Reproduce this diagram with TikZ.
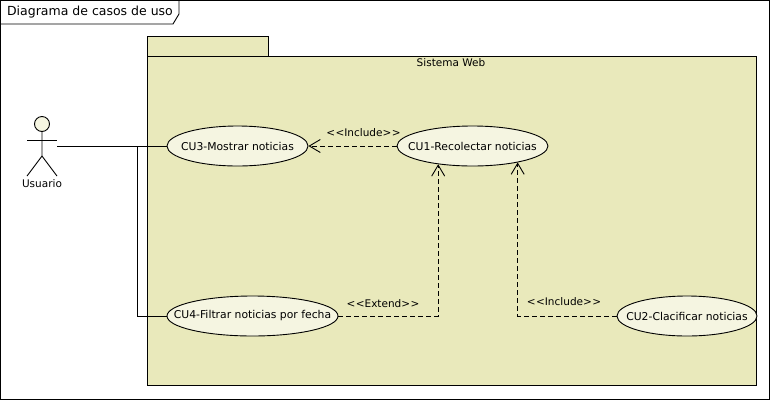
\documentclass[tikz,border=0pt]{standalone}
\usepackage{fontspec}
\setmainfont{DejaVu Sans}
\usetikzlibrary{arrows.meta}
\usetikzlibrary{shapes.geometric}
\definecolor{pkgfill}{HTML}{E9E9BB}
\definecolor{ucfill}{HTML}{F5F5E1}
\newcommand{\uctext}[1]{\makebox[0pt]{#1}}
\newcommand{\stereo}[1]{<\kern0.4pt<#1>\kern0.4pt>}
\tikzset{
    ucase/.style={draw, ellipse, fill=ucfill, inner sep=0pt, minimum height=40pt, font=\fontsize{10.8}{12}\selectfont},
    txt/.style={inner sep=0pt, font=\fontsize{10.5}{12}\selectfont},
    dep/.style={dashed, dash pattern=on 5pt off 3pt, -{Straight Barb[length=11pt,width=13pt]}},
}

\begin{document}
\begin{tikzpicture}[x=1pt, y=-1pt, line width=0.9pt]
    \useasboundingbox (0, 0) rectangle (771, 400);
    % frame
    \draw (0.5, 0.5) rectangle (769.5, 399);
    \draw (0.5, 24) -- (173, 24) -- (179, 14) -- (179, 0.5);
    \node [inner sep=0pt, font=\fontsize{12.5}{14}\selectfont] (frametitle) at (90, 12.5) {Diagrama de casos de uso};
    % package
    \draw [fill=pkgfill] (147.5, 36.5) rectangle (268.5, 56.5);
    \draw [fill=pkgfill] (147.5, 56.5) rectangle (756.5, 385.5);
    \node [txt] (sistema) at (451, 62.5) {Sistema Web};
    % actor
    \draw [fill=ucfill] (42, 124) circle (7.5);
    \draw (42, 131.5) -- (42, 156) -- (27, 176);
    \draw (42, 156) -- (57, 176);
    \draw (27, 140) -- (57, 140);
    \node [txt] (usuario) at (42, 183.5) {Usuario};
    \coordinate (hand) at (57, 146);
    \coordinate (branch) at (137, 146);
    % use cases
    \node [ucase, minimum width=141pt] (cu3) at (237.5, 146) {\uctext{CU3-Mostrar noticias}};
    \node [ucase, minimum width=151pt] (cu1) at (472.5, 146) {\uctext{CU1-Recolectar noticias}};
    \node [ucase, minimum width=171pt] (cu4) at (252.5, 316) {\uctext{CU4-Filtrar noticias por fecha}};
    \node [ucase, minimum width=140pt] (cu2) at (687, 316) {\uctext{CU2-Clacificar noticias}};
    % connectors
    \draw (hand) -- (cu3);
    \draw (branch) |- (cu4);
    \draw [dep] (cu1) -- (cu3);
    \draw [dep] (cu4) -| (cu1.208);
    \draw [dep] (cu2) -| (cu1.340);
    \node [txt] (incl1) at (363.5, 133) {\stereo{Include}};
    \node [txt] (ext) at (383, 304) {\stereo{Extend}};
    \node [txt] (incl2) at (564, 302) {\stereo{Include}};
\end{tikzpicture}
\end{document}
